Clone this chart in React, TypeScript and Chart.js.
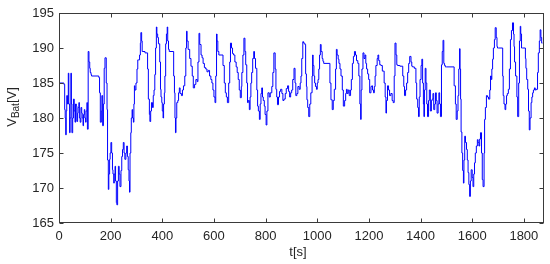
import React, { useEffect, useRef } from "react";
import { Chart, registerables } from "chart.js";

Chart.register(...registerables);

const timeS: number[] = [
  0, 19, 22, 24, 26, 28, 30, 33, 36, 38, 41, 43, 46, 48, 50, 53, 56, 59, 62, 64, 67, 69, 72, 74, 77, 79, 82, 85, 88, 90, 93, 95, 98, 100, 103, 105, 108, 110, 113, 116, 119, 121, 124, 126, 154, 157, 160, 164, 166, 169, 172, 175, 178, 183, 186, 188, 191, 193, 196, 198, 201, 204, 207, 209, 212, 214, 217, 219, 222, 224, 227, 230, 233, 236, 240, 243, 246, 249, 252, 255, 259, 262, 265, 268, 271, 273, 275, 278, 280, 283, 285, 288, 290, 292, 294, 298, 302, 305, 307, 312, 315, 317, 320, 322, 325, 333, 343, 346, 350, 352, 355, 358, 362, 365, 368, 371, 374, 377, 379, 382, 385, 390, 393, 395, 398, 400, 403, 405, 408, 410, 413, 416, 419, 421, 424, 427, 444, 447, 449, 451, 453, 456, 460, 463, 466, 469, 474, 478, 482, 487, 491, 494, 496, 500, 506, 511, 516, 520, 525, 530, 535, 538, 542, 545, 550, 554, 558, 563, 568, 573, 578, 583, 588, 592, 596, 600, 604, 607, 610, 612, 615, 619, 623, 635, 640, 644, 648, 652, 657, 661, 664, 668, 672, 676, 681, 686, 690, 694, 698, 702, 706, 708, 712, 716, 720, 723, 727, 730, 733, 737, 740, 743, 746, 750, 754, 757, 761, 766, 769, 772, 776, 779, 782, 785, 788, 791, 795, 798, 802, 805, 809, 814, 818, 824, 828, 832, 837, 840, 843, 846, 850, 854, 858, 863, 867, 871, 876, 880, 885, 889, 893, 897, 901, 905, 910, 914, 917, 921, 925, 930, 934, 937, 940, 944, 947, 952, 955, 958, 960, 963, 967, 971, 975, 980, 982, 984, 987, 990, 993, 997, 1000, 1003, 1006, 1009, 1012, 1015, 1019, 1022, 1025, 1030, 1049, 1053, 1058, 1062, 1066, 1071, 1074, 1077, 1081, 1084, 1088, 1092, 1097, 1101, 1106, 1110, 1113, 1116, 1120, 1124, 1129, 1132, 1136, 1140, 1144, 1148, 1152, 1157, 1161, 1165, 1168, 1170, 1173, 1177, 1181, 1185, 1188, 1191, 1195, 1199, 1203, 1208, 1211, 1214, 1218, 1221, 1224, 1227, 1232, 1235, 1238, 1242, 1247, 1252, 1259, 1263, 1266, 1268, 1272, 1276, 1280, 1285, 1290, 1294, 1298, 1301, 1305, 1308, 1311, 1320, 1331, 1335, 1338, 1342, 1346, 1350, 1354, 1358, 1363, 1366, 1369, 1376, 1382, 1385, 1389, 1392, 1395, 1398, 1402, 1405, 1408, 1411, 1413, 1415, 1418, 1421, 1424, 1427, 1431, 1434, 1438, 1442, 1445, 1448, 1451, 1455, 1458, 1461, 1464, 1468, 1471, 1474, 1477, 1481, 1484, 1487, 1490, 1493, 1496, 1500, 1530, 1535, 1538, 1542, 1545, 1548, 1551, 1553, 1555, 1557, 1560, 1563, 1566, 1568, 1571, 1574, 1578, 1581, 1584, 1587, 1590, 1593, 1596, 1600, 1603, 1606, 1609, 1612, 1616, 1620, 1623, 1626, 1629, 1632, 1636, 1639, 1642, 1646, 1648, 1651, 1655, 1659, 1663, 1668, 1671, 1674, 1676, 1679, 1682, 1686, 1689, 1693, 1696, 1698, 1702, 1718, 1720, 1723, 1727, 1730, 1733, 1736, 1740, 1744, 1748, 1752, 1756, 1760, 1762, 1764, 1768, 1773, 1776, 1780, 1783, 1786, 1788, 1791, 1795, 1806, 1808, 1811, 1815, 1818, 1821, 1824, 1828, 1831, 1834, 1837, 1841, 1844, 1848, 1853, 1856, 1860, 1863, 1866, 1869, 1872,
];

const voltageV: number[] = [
  185, 185, 184.8, 181.2, 180, 177.6, 181, 183.2, 182, 186.4, 182, 177.9, 180, 186.4, 182, 177.9, 180, 182.7, 181, 179.4, 182, 181.7, 179.5, 180.7, 181.5, 182.2, 180, 179.4, 181.5, 180.7, 180, 178.9, 180.5, 181.2, 180, 179.4, 181, 182.2, 178.4, 189.5, 188, 187.1, 186.5, 186.2, 186, 185.8, 183.6, 179.4, 181, 183.2, 178.9, 182, 187.1, 188.6, 185, 181.2, 174, 169.8, 172, 174.1, 175, 176.5, 175, 172.6, 172, 170.7, 172, 173.1, 171, 167.9, 167.6, 171, 173.1, 172, 170.2, 172.5, 174.5, 175.5, 176.5, 175, 174.1, 175, 176, 174.5, 172.6, 171, 169.4, 175, 177.9, 180, 181.2, 180, 179.4, 182, 184.6, 184, 185, 187, 188.3, 188.3, 189, 190.7, 192.2, 191, 189.5, 189.5, 189.3, 187, 182.7, 180.5, 179.5, 181, 182.2, 181.5, 183.2, 184, 186.2, 190, 193, 192, 191.5, 190.6, 188, 184.1, 183, 182.2, 181, 180, 182, 183.6, 186, 190.6, 192, 193, 191, 189.8, 189.5, 186, 183.6, 180, 177.9, 180, 182.2, 182.5, 183.6, 184.3, 183.5, 183.2, 184, 184.6, 186, 190, 192.4, 191, 189.8, 188.5, 187.4, 186, 184.3, 184.8, 185.5, 185.2, 188, 192.1, 190.5, 189, 188.6, 187.8, 187.2, 187, 186.6, 186.8, 186, 185.5, 185, 184, 183, 182.2, 186, 192, 191, 189.5, 189, 189, 187.5, 185, 183.6, 183, 182.2, 185, 188, 190.7, 190, 189.2, 189, 188, 187.3, 186.5, 185.5, 184, 182.9, 184.5, 186.5, 189, 191.4, 189.5, 187.6, 185, 182.2, 182.5, 181.2, 183, 185, 186.5, 188.5, 189.5, 188.5, 187.1, 184, 181.7, 181, 179.8, 182, 183.5, 184.3, 183, 182.5, 181.7, 180.5, 179, 181, 183.6, 183, 183.6, 184.5, 186.5, 189.3, 187, 184.1, 183, 181.9, 183, 183.8, 184.1, 183.5, 182.5, 182.7, 183.5, 184.2, 184.6, 183.8, 183, 183.6, 184, 185.5, 187.1, 185, 183.2, 183.5, 184.5, 184.1, 185, 186, 188.5, 190.9, 190.7, 190.5, 186.3, 184.5, 182.6, 181.5, 180.2, 182, 183.6, 186, 189, 187.5, 186, 185, 184.5, 184.1, 185, 185.5, 187, 189, 190.5, 189.5, 188.5, 188.1, 187.8, 187.8, 185, 182.6, 181.2, 182.5, 184.1, 187, 189.8, 189, 188.4, 187.8, 187, 186, 184, 181.7, 182.5, 183.5, 184.1, 183.5, 184, 183.2, 184, 185.5, 187.8, 188.8, 189.5, 189, 188.2, 187.8, 186, 182, 179.8, 184, 187, 189.3, 188.5, 189, 187.8, 187, 186.3, 185.5, 183.6, 184.5, 184.6, 184, 183.6, 184.5, 186, 187.5, 188.5, 189, 188.2, 187.6, 187.5, 186.7, 185, 183, 180.7, 182.5, 184.6, 184, 183.2, 183.5, 182.5, 182.2, 186, 190.7, 189, 187.6, 187.5, 187.4, 186, 184.5, 183.2, 184, 185, 186.5, 187.8, 188.8, 188, 187.4, 187.3, 187.1, 185, 182.7, 181.5, 180.2, 183, 185.5, 187.5, 188.4, 185, 182, 180.2, 184, 187.1, 185, 182, 180.2, 182.5, 184, 181, 182.5, 182.7, 183.5, 181.2, 182, 183.6, 182.5, 180.7, 182, 183.6, 182, 180.2, 187.6, 189.5, 191.1, 187.8, 187.5, 187.3, 187.3, 184.6, 182, 179.8, 181, 183.2, 187, 189.9, 187, 182.7, 178, 175, 172.5, 170.7, 174, 177.4, 176.5, 175.5, 174, 172.2, 170.5, 168.8, 171, 172.6, 171.5, 170.2, 172, 173.6, 175, 176, 176.9, 176.5, 176, 177, 177.9, 175, 171.2, 170.2, 175, 179.8, 181.5, 183.2, 183, 182.7, 184, 186, 185.5, 187, 188.4, 190, 191.2, 192.9, 191.5, 190.2, 190, 190, 186, 183.2, 182, 181.2, 182, 183.2, 183.5, 184.1, 187, 191.2, 192.5, 193.6, 192, 190.2, 188, 186, 183, 180.2, 185, 191, 193.1, 192, 190, 190, 188.5, 187.1, 185.5, 184.1, 181, 178.3, 180, 182.2, 183, 183.6, 184, 184.3, 184, 184.1, 186.5, 189.3, 191, 192.6, 191.5, 190.7,
];

const xTickValues: number[] = [0, 200, 400, 600, 800, 1000, 1200, 1400, 1600, 1800];
const yTickValues: number[] = [165, 170, 175, 180, 185, 190, 195];

const FONT = "'Liberation Sans', Arial, Helvetica, sans-serif";
const TEXT = "#262626";

const framePlugin = {
  id: "matlabFrame",
  afterDraw(chart: any) {
    const { ctx, chartArea } = chart;
    const { left, right, top, bottom } = chartArea;
    const xs = chart.scales.x;
    const ys = chart.scales.y;
    ctx.save();
    ctx.strokeStyle = "#3a3a3a";
    ctx.lineWidth = 1;
    const L = Math.round(left) + 0.5;
    const R = Math.round(right) - 0.5;
    const T = Math.round(top) + 0.5;
    const B = Math.round(bottom) - 0.5;
    ctx.strokeRect(L, T, R - L, B - T);
    const tl = 4;
    ctx.beginPath();
    for (const v of xTickValues) {
      const px = Math.round(xs.getPixelForValue(v)) + 0.5;
      ctx.moveTo(px, B);
      ctx.lineTo(px, B - tl);
      ctx.moveTo(px, T);
      ctx.lineTo(px, T + tl);
    }
    for (const v of yTickValues) {
      const py = Math.round(ys.getPixelForValue(v)) + 0.5;
      ctx.moveTo(L, py);
      ctx.lineTo(L + tl, py);
      ctx.moveTo(R, py);
      ctx.lineTo(R - tl, py);
    }
    ctx.stroke();

    ctx.fillStyle = TEXT;
    ctx.textBaseline = "alphabetic";
    ctx.textAlign = "center";
    ctx.font = `13px ${FONT}`;
    ctx.fillText("t[s]", 298, 256);

    ctx.translate(16, 107);
    ctx.rotate(-Math.PI / 2);
    const big = `13px ${FONT}`;
    const small = `10px ${FONT}`;
    ctx.font = big;
    const wV = ctx.measureText("V").width;
    const wBr = ctx.measureText("[V]").width;
    ctx.font = small;
    const wSub = ctx.measureText("Bat").width;
    const total = wV + wSub + wBr;
    let x = -total / 2;
    ctx.textAlign = "left";
    ctx.font = big;
    ctx.fillText("V", x, 0);
    x += wV;
    ctx.font = small;
    ctx.fillText("Bat", x, 3);
    x += wSub;
    ctx.font = big;
    ctx.fillText("[V]", x, 0);
    ctx.restore();
  },
};

export default function App() {
  const canvasRef = useRef<HTMLCanvasElement | null>(null);

  useEffect(() => {
    if (!canvasRef.current) return;
    const points = timeS.map((t, i) => ({ x: t, y: voltageV[i] }));
    const chart = new Chart(canvasRef.current, {
      type: "line",
      data: {
        datasets: [
          {
            data: points,
            borderColor: "#0000ff",
            borderWidth: 1,
            pointRadius: 0,
            fill: false,
            tension: 0,
            stepped: "after",
          },
        ],
      },
      options: {
        animation: false,
        responsive: true,
        maintainAspectRatio: false,
        layout: { padding: { top: 13, right: 6, left: 0, bottom: 0 } },
        plugins: {
          legend: { display: false },
          tooltip: { enabled: false },
        },
        scales: {
          x: {
            type: "linear",
            min: 0,
            max: 1878,
            afterBuildTicks: (s: any) => {
              s.ticks = xTickValues.map((v) => ({ value: v }));
            },
            afterFit: (s: any) => {
              s.height = 41;
            },
            grid: { display: false, drawTicks: false },
            border: { display: false },
            ticks: {
              autoSkip: false,
              maxRotation: 0,
              padding: 6,
              color: TEXT,
              font: { family: FONT, size: 13 },
              callback: (v: any) => String(v),
            },
          },
          y: {
            type: "linear",
            min: 165,
            max: 195,
            afterBuildTicks: (s: any) => {
              s.ticks = yTickValues.map((v) => ({ value: v }));
            },
            afterFit: (s: any) => {
              s.width = 59;
            },
            grid: { display: false, drawTicks: false },
            border: { display: false },
            ticks: {
              padding: 5,
              color: TEXT,
              font: { family: FONT, size: 13 },
              callback: (v: any) => String(v),
            },
          },
        },
      },
      plugins: [framePlugin],
    });
    return () => chart.destroy();
  }, []);

  return (
    <div style={{ position: "fixed", left: 0, top: 0, width: 550, height: 264, background: "#fff" }}>
      <canvas ref={canvasRef} />
    </div>
  );
}
